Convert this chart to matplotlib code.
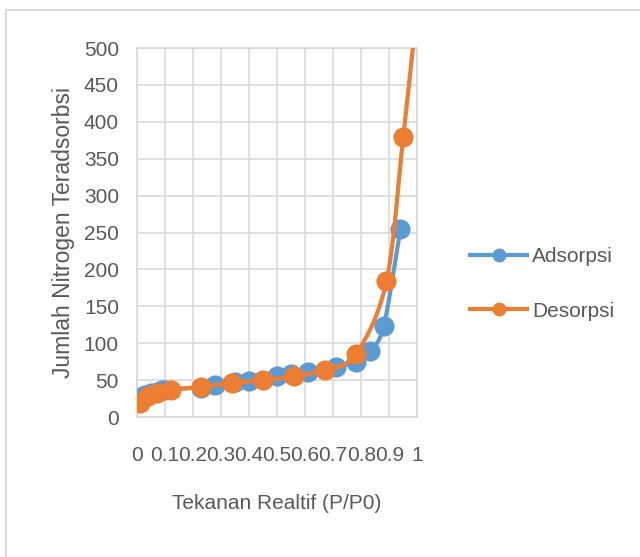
import numpy as np
import matplotlib.pyplot as plt
from matplotlib.lines import Line2D
from matplotlib.patches import Rectangle

# isotherm data: relative pressure vs adsorbed nitrogen
ads_p = [0.0, 0.01, 0.02, 0.03, 0.05, 0.07, 0.09, 0.10, 0.23, 0.28, 0.35, 0.40,
         0.50, 0.55, 0.61, 0.71, 0.78, 0.83, 0.88, 0.94]
ads_v = [22, 26, 28, 30, 32, 34, 36, 37, 40, 43, 47, 49,
         55, 58, 61, 68, 75, 90, 123, 255]

des_p = [0.99, 0.95, 0.89, 0.78, 0.67, 0.56, 0.45, 0.34, 0.23, 0.12, 0.07, 0.04, 0.01]
des_v = [520, 380, 184, 85, 64, 55, 50, 46, 41, 37, 32, 28, 19]

x_ticks = [0, 0.1, 0.2, 0.3, 0.4, 0.5, 0.6, 0.7, 0.8, 0.9, 1]
x_labels = ['0', '0.1', '0.2', '0.3', '0.4', '0.5', '0.6', '0.7', '0.8', '0.9', '1']
y_ticks = [0, 50, 100, 150, 200, 250, 300, 350, 400, 450, 500]

BLUE = '#5B9BD5'
ORANGE = '#ED7D31'
TXT = '#595959'
GRID = '#D9D9D9'

plt.rcParams['font.family'] = ['Liberation Sans Narrow', 'Liberation Sans', 'DejaVu Sans']


def smooth(x, y, n=20):
    # spreadsheet-style smoothed line (cardinal bezier through the points)
    x = np.asarray(x, float)
    y = np.asarray(y, float)
    px = np.concatenate([[x[0]], x, [x[-1]]])
    py = np.concatenate([[y[0]], y, [y[-1]]])
    xs, ys = [], []
    t = np.linspace(0, 1, n)
    for i in range(1, len(px) - 2):
        p0 = np.array([px[i], py[i]])
        p3 = np.array([px[i + 1], py[i + 1]])
        p1 = p0 + (np.array([px[i + 1], py[i + 1]]) - np.array([px[i - 1], py[i - 1]])) / 6
        p2 = p3 - (np.array([px[i + 2], py[i + 2]]) - np.array([px[i], py[i]])) / 6
        b = ((1 - t) ** 3)[:, None] * p0 + (3 * (1 - t) ** 2 * t)[:, None] * p1 \
            + (3 * (1 - t) * t ** 2)[:, None] * p2 + (t ** 3)[:, None] * p3
        xs.extend(b[:, 0])
        ys.extend(b[:, 1])
    return xs, ys


fig = plt.figure(figsize=(6.4, 5.57), dpi=100)
ax = fig.add_axes([0.214, 0.2513, 0.438, 0.6625])

sx, sy = smooth(ads_p, ads_v)
ax.plot(sx, sy, color=BLUE, lw=3.0, zorder=3)
ax.plot(ads_p, ads_v, 'o', color=BLUE, ms=13.5, zorder=3)

sx, sy = smooth(des_p, des_v)
ax.plot(sx, sy, color=ORANGE, lw=3.0, zorder=4)
ax.plot(des_p, des_v, 'o', color=ORANGE, ms=13.5, zorder=4)

ax.set_xlim(0, 1)
ax.set_ylim(0, 500)
ax.set_xticks(x_ticks)
ax.set_xticklabels(x_labels)
ax.set_yticks(y_ticks)
ax.grid(True, color=GRID, lw=1.2)
ax.set_axisbelow(True)
for s in ax.spines.values():
    s.set_color(GRID)
    s.set_linewidth(1.2)
ax.tick_params(length=0, labelsize=15, labelcolor=TXT)
ax.tick_params(axis='y', pad=13)
ax.tick_params(axis='x', pad=21)

ax.set_xlabel('Tekanan Realtif (P/P0)', fontsize=15, color=TXT, labelpad=21)
ax.set_ylabel('Jumlah Nitrogen Teradsorbsi', fontsize=16.5, color=TXT, labelpad=6)

handles = [Line2D([], [], color=BLUE, lw=3.0, marker='o', ms=9),
           Line2D([], [], color=ORANGE, lw=3.0, marker='o', ms=9)]
fig.legend(handles, ['Adsorpsi', 'Desorpsi'], loc='center left',
           bbox_to_anchor=(0.705, 0.49), frameon=False, fontsize=15,
           labelcolor=TXT, handlelength=2.75, handletextpad=0.25, labelspacing=1.7)

# chart-area border (only left and top edges are visible)
fig.add_artist(Rectangle((6 / 640, -0.1), 1.2, 1 - 10 / 557 + 0.1,
                         transform=fig.transFigure, fill=False,
                         edgecolor=GRID, lw=1.5))

fig.savefig('out.png', dpi=100)
